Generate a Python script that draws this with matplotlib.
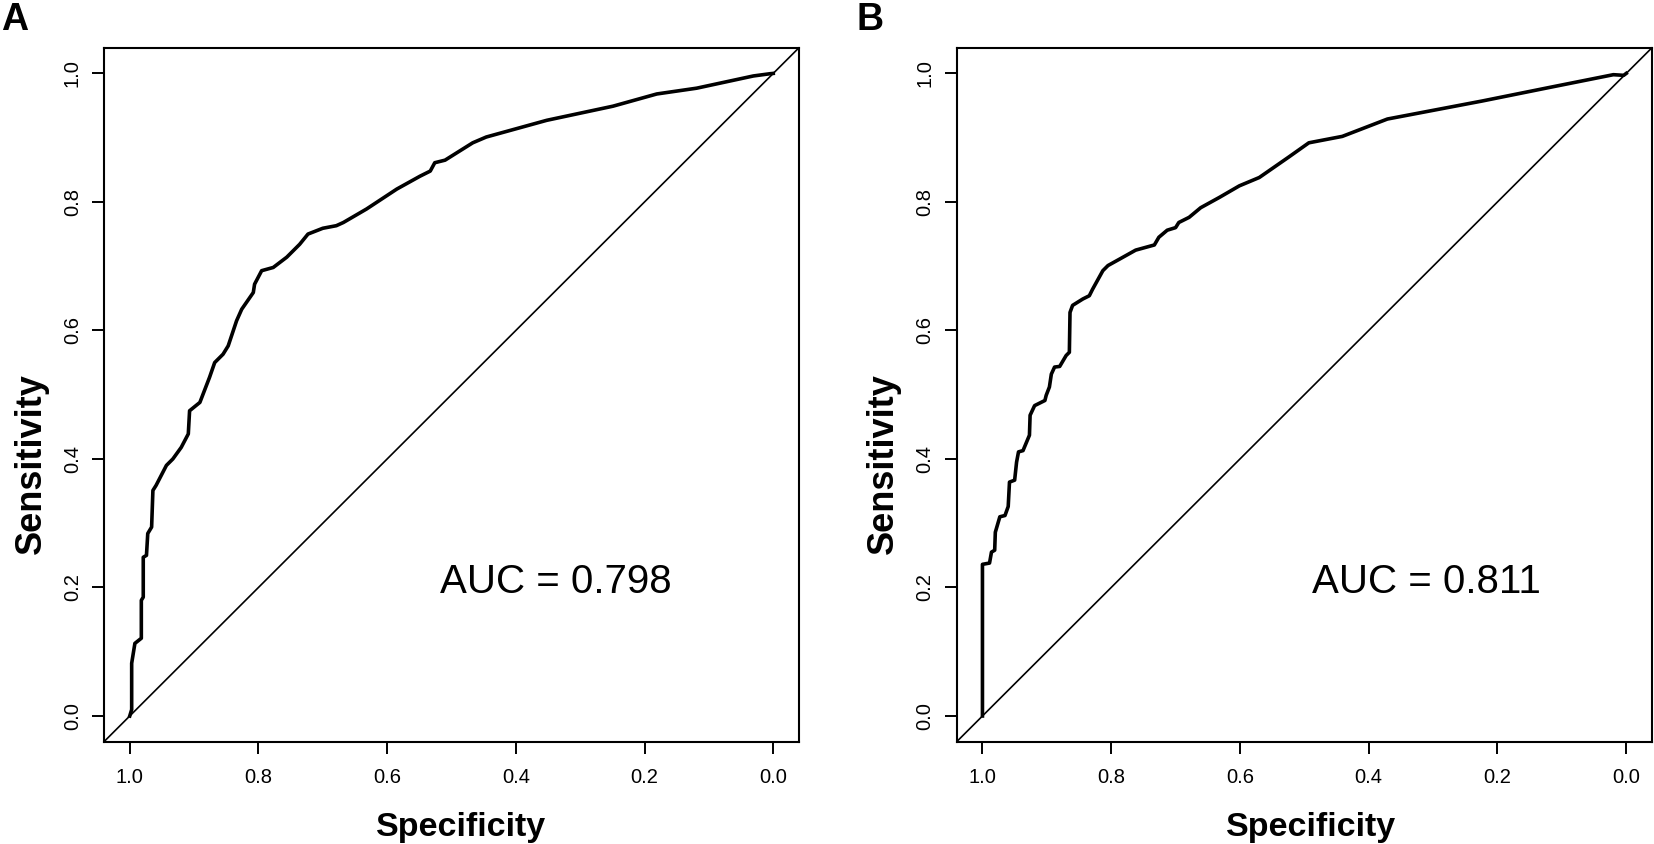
import matplotlib
matplotlib.use("Agg")
import matplotlib.pyplot as plt

plt.rcParams['font.family'] = ['Liberation Sans', 'DejaVu Sans']

# ---- data ----
spec_a = [1.000, 0.997, 0.997, 0.992, 0.982, 0.982, 0.979, 0.979, 0.974, 0.972,
          0.966, 0.964, 0.959, 0.943, 0.933, 0.920, 0.909, 0.907, 0.891, 0.886,
          0.876, 0.868, 0.855, 0.847, 0.839, 0.834, 0.826, 0.808, 0.806, 0.795,
          0.777, 0.756, 0.736, 0.723, 0.700, 0.679, 0.668, 0.632, 0.585, 0.549,
          0.533, 0.526, 0.510, 0.467, 0.446, 0.352, 0.249, 0.181, 0.119, 0.031,
          0.005, 0.000]
sens_a = [0.000, 0.010, 0.082, 0.113, 0.121, 0.180, 0.185, 0.247, 0.250, 0.284,
          0.294, 0.351, 0.359, 0.390, 0.400, 0.418, 0.439, 0.475, 0.488, 0.501,
          0.527, 0.550, 0.563, 0.576, 0.600, 0.615, 0.633, 0.659, 0.672, 0.693,
          0.698, 0.714, 0.734, 0.750, 0.759, 0.763, 0.768, 0.789, 0.820, 0.840,
          0.848, 0.861, 0.865, 0.892, 0.901, 0.927, 0.949, 0.968, 0.977, 0.996,
          0.9995, 1.000]

spec_b = [1.000, 1.000, 0.989, 0.986, 0.981, 0.980, 0.973, 0.965, 0.960, 0.958,
          0.950, 0.947, 0.944, 0.937, 0.927, 0.926, 0.919, 0.903, 0.901, 0.896,
          0.893, 0.888, 0.880, 0.870, 0.865, 0.864, 0.860, 0.844, 0.834, 0.829,
          0.813, 0.805, 0.787, 0.762, 0.733, 0.726, 0.713, 0.700, 0.695, 0.679,
          0.661, 0.632, 0.601, 0.570, 0.524, 0.493, 0.467, 0.441, 0.371, 0.224,
          0.120, 0.020, 0.004, 0.000]
sens_b = [0.000, 0.236, 0.238, 0.255, 0.258, 0.286, 0.310, 0.312, 0.326, 0.364,
          0.367, 0.395, 0.411, 0.413, 0.437, 0.468, 0.483, 0.491, 0.499, 0.512,
          0.532, 0.543, 0.544, 0.561, 0.566, 0.628, 0.639, 0.649, 0.654, 0.664,
          0.693, 0.701, 0.711, 0.725, 0.733, 0.745, 0.756, 0.760, 0.768, 0.776,
          0.791, 0.807, 0.825, 0.838, 0.870, 0.892, 0.897, 0.902, 0.929, 0.957,
          0.978, 0.998, 0.997, 1.000]

auc_labels = ["AUC = 0.798", "AUC = 0.811"]
panel_labels = ["A", "B"]
tick_vals = [0.0, 0.2, 0.4, 0.6, 0.8, 1.0]
tick_labels = ["0.0", "0.2", "0.4", "0.6", "0.8", "1.0"]

W, H = 1654, 844
fig = plt.figure(figsize=(W / 100, H / 100), dpi=100)

def fx(px):
    return px / W

def fy(py):
    return 1 - py / H

panels = [
    dict(left=104, right=799, spec=spec_a, sens=sens_a, auc_x=0.3375,
         lab_x=1.5, sens_x=5, spec_cx=461),
    dict(left=956.7, right=1652, spec=spec_b, sens=sens_b, auc_x=0.3096,
         lab_x=856, sens_x=857, spec_cx=1311),
]
top, bottom = 47.7, 741.7

for i, p in enumerate(panels):
    ax = fig.add_axes([fx(p['left']), fy(bottom), (p['right'] - p['left']) / W,
                       (bottom - top) / H])
    ax.set_xlim(1.04, -0.04)
    ax.set_ylim(-0.04, 1.04)
    ax.axline((1, 0), (0, 1), color='black', lw=1.2)
    ax.plot(p['spec'], p['sens'], color='black', lw=2.6, solid_joinstyle='round')
    ax.set_xticks(tick_vals)
    ax.set_xticklabels(tick_labels, fontsize=14.5)
    ax.set_yticks(tick_vals)
    ax.set_yticklabels(tick_labels, fontsize=14.5, rotation=90, va='center')
    ax.tick_params(axis='both', direction='out', length=8.4, width=1.4, color='black')
    ax.tick_params(axis='x', pad=10.5)
    ax.tick_params(axis='y', pad=7.5)
    for s in ax.spines.values():
        s.set_linewidth(1.5)
        s.set_color('black')
    ax.text(p['auc_x'], 0.1916, auc_labels[i], ha='center', va='baseline',
            fontsize=29, color='black')
    # panel letter
    fig.text(fx(p['lab_x']), fy(29.5), panel_labels[i], fontsize=27, fontweight='bold',
             ha='left', va='baseline')
    # axis labels
    fig.text(fx(p['spec_cx']), fy(836), "Specificity", fontsize=24.5, fontweight='bold',
             ha='center', va='baseline')
    fig.text(fx(p['sens_x'] + 26), fy(373.5), "Sensitivity", fontsize=26, fontweight='bold',
             ha='right', va='center', rotation=90, rotation_mode='anchor')

fig.savefig("out.png", dpi=100)
